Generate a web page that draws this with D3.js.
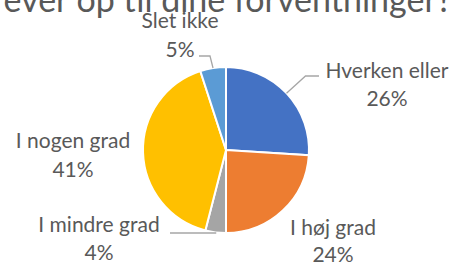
<!DOCTYPE html>
<html>
<head>
<meta charset="utf-8">
<script src="https://cdn.jsdelivr.net/npm/d3@7"></script>
<style>
  body { margin: 0; background: #fff; }
  text { font-family: Lato, "Open Sans", sans-serif; fill: #595959; }
</style>
</head>
<body>
<div id="chart"></div>
<script>
// chart data
var categories = ["Hverken eller", "I høj grad", "I mindre grad", "I nogen grad", "Slet ikke"];
var values = [26, 24, 4, 41, 5];
var colors = ["#4472C4", "#ED7D31", "#A5A5A5", "#FFC000", "#5B9BD5"];
var titleText = "ever op til dine forventninger?";

// label placement (name baseline, pct baseline, centre x)
var labelPos = [
  {x: 387, y1: 78, y2: 106, lx: 319, ly: 76},
  {x: 333, y1: 235, y2: 262},
  {x: 99, y1: 232, y2: 260, lx: 170, ly: 233},
  {x: 73, y1: 148, y2: 177},
  {x: 180, y1: 28, y2: 57, lx: 199, ly: 56}
];

var width = 455, height = 266,
    cx = 226, cy = 150, radius = 83;

var svg = d3.select("#chart").append("svg")
    .attr("width", width)
    .attr("height", height);

// title (cut off at the top in the original)
svg.append("text")
    .attr("x", 452)
    .attr("y", 12)
    .attr("text-anchor", "end")
    .style("font-size", "34px")
    .text(titleText);

var data = categories.map(function(c, i) {
  return {name: c, value: values[i], color: colors[i], pos: labelPos[i]};
});

var pie = d3.pie()
    .sort(null)
    .value(function(d) { return d.value; });

var arc = d3.arc()
    .innerRadius(0)
    .outerRadius(radius);

var g = svg.append("g")
    .attr("transform", "translate(" + cx + "," + cy + ")");

var arcs = pie(data);

g.selectAll("path")
    .data(arcs)
  .enter().append("path")
    .attr("d", arc)
    .attr("fill", function(d) { return d.data.color; })
    .attr("stroke", "#fff")
    .attr("stroke-width", 2);

// leader lines from the slice edge to the label
arcs.forEach(function(d) {
  var p = d.data.pos;
  if (p.lx === undefined) return;
  var a = (d.startAngle + d.endAngle) / 2;
  var sx = cx + radius * Math.sin(a),
      sy = cy - radius * Math.cos(a);
  var bend;
  if (d.data.name == "Hverken eller") bend = [sx + 19, p.ly];
  else if (d.data.name == "Slet ikke") bend = [p.lx + 11, p.ly];
  else bend = [sx, p.ly];
  svg.append("polyline")
      .attr("points", [[sx, sy], bend, [p.lx, p.ly]].join(" "))
      .attr("fill", "none")
      .attr("stroke", "#A6A6A6")
      .attr("stroke-width", 1.3);
});

// labels
arcs.forEach(function(d) {
  var p = d.data.pos;
  svg.append("text")
      .attr("x", p.x)
      .attr("y", p.y1)
      .attr("text-anchor", "middle")
      .style("font-size", "21px")
      .text(d.data.name);
  svg.append("text")
      .attr("x", p.x)
      .attr("y", p.y2)
      .attr("text-anchor", "middle")
      .style("font-size", "21px")
      .text(d.data.value + "%");
});
</script>
</body>
</html>
